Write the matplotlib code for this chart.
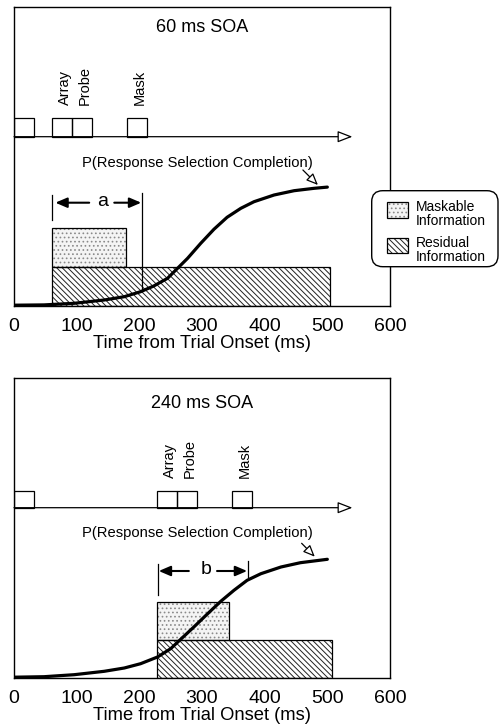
import matplotlib
matplotlib.use("Agg")
import matplotlib.pyplot as plt
from matplotlib.patches import Rectangle, FancyBboxPatch

plt.rcParams['font.family'] = ['Liberation Sans', 'DejaVu Sans']
plt.rcParams['hatch.linewidth'] = 0.7

# ---------------- data ----------------
panel_titles = ["60 ms SOA", "240 ms SOA"]
stim_labels = ["Array", "Probe", "Mask"]
# stimulus onsets (ms): fixation, array, probe, mask
stim_onsets = [[0, 60, 92, 180], [0, 228, 260, 348]]
stim_duration = 32
# information boxes (ms)
maskable_start = [60, 228]
maskable_end = [178, 343]
residual_end = [504, 507]
maskable_level = [77.4, 75.7]
residual_level = [38.4, 37.4]
# measured interval (a / b)
interval_names = ["a", "b"]
interval_start = [60, 229]
interval_end = [204, 374]
# P(response selection completion) curves
curve_t_top = [0, 48, 96, 144, 176, 202, 223, 245, 261, 277, 298, 319, 340,
               362, 383, 415, 447, 479, 500]
curve_y_top = [0.5, 0.8, 2.4, 5.7, 9, 14, 19.7, 27.4, 37.4, 47.4, 62.4, 76.4,
               88.4, 97.4, 104, 110.7, 115, 117.4, 118.6]
curve_t_bot = [0, 48, 96, 144, 176, 202, 229, 250, 266, 287, 309, 330, 351,
               372, 394, 426, 457, 500]
curve_y_bot = [0.5, 1, 3, 6.4, 9.7, 14, 20.7, 29, 38.4, 50.7, 64, 76.4, 87.4,
               97.4, 104, 110.7, 115, 118.4]
curves_t = [curve_t_top, curve_t_bot]
curves_y = [curve_y_top, curve_y_bot]
xticks = [0, 100, 200, 300, 400, 500, 600]

W, H = 500, 727
fig = plt.figure(figsize=(W / 100, H / 100), dpi=100)


def ax_rect(l, t, r, b):
    return [l / W, 1 - b / H, (r - l) / W, (b - t) / H]


panel_px = [(14, 7, 390, 305.7), (14, 378, 390, 677.7)]
title_y = [278, 274.7]
tl_base = [169, 170]
tl_top = [187.4, 187]
lbl_y = [201, 200]
p_y = [143, 144.7]
arrow_y = [103, 106.7]
int_left_y = [(85.7, 110.7), (82.4, 114)]
int_right_y = [(15, 112.7), (100.7, 117)]
int_arrows = [((120, 66), (160, 203)), ((279, 231), (324, 372))]
lbl_x = [141, 306]
ptr = [((461, 135.7), (485, 120.7)), ((459, 134.4), (480, 121))]
HATCH_RES = '\\\\\\\\\\\\'

for i in range(2):
    ax = fig.add_axes(ax_rect(*panel_px[i]))
    ax.set_xlim(0, 600)
    ax.set_ylim(0, panel_px[i][3] - panel_px[i][1])
    for s in ax.spines.values():
        s.set_linewidth(1.0)
    ax.set_yticks([])
    ax.set_xticks(xticks)
    ax.set_xticklabels([str(v) for v in xticks], fontsize=14)
    ax.tick_params(axis='x', length=0, pad=9)
    ax.set_xlabel("Time from Trial Onset (ms)", fontsize=13.2, labelpad=0)

    ax.text(300, title_y[i], panel_titles[i], ha='center', va='center', fontsize=13)

    # timeline
    for j, on in enumerate(stim_onsets[i]):
        ax.add_patch(Rectangle((on, tl_base[i]), stim_duration, tl_top[i] - tl_base[i],
                               fill=False, ec='black', lw=0.9))
        if j > 0:
            ax.text(on + stim_duration / 2 + 5, lbl_y[i], stim_labels[j - 1], rotation=90,
                    ha='center', va='bottom', fontsize=10.5)
    ax.annotate('', xy=(540, tl_base[i]), xytext=(0, tl_base[i]),
                arrowprops=dict(arrowstyle='-|>,head_length=0.9,head_width=0.35',
                                fc='white', ec='black', lw=0.9, shrinkA=0, shrinkB=0))

    ax.text(292, p_y[i], "P(Response Selection Completion)", ha='center', va='center',
            fontsize=10.6)

    # information boxes
    ms, me = maskable_start[i], maskable_end[i]
    ax.add_patch(Rectangle((ms, residual_level[i]), me - ms, maskable_level[i] - residual_level[i],
                           fc='#f4f4f4', ec='#8a8a8a', hatch='....', lw=0, zorder=1))
    ax.add_patch(Rectangle((ms, residual_level[i]), me - ms, maskable_level[i] - residual_level[i],
                           fill=False, ec='black', lw=0.9, zorder=1.2))
    ax.add_patch(Rectangle((ms, 0), residual_end[i] - ms, residual_level[i],
                           fc='white', ec='#222222', hatch=HATCH_RES, lw=0, zorder=1))
    ax.add_patch(Rectangle((ms, 0), residual_end[i] - ms, residual_level[i],
                           fill=False, ec='black', lw=0.9, zorder=1.2))

    # curve
    ax.plot(curves_t[i], curves_y[i], color='black', lw=2.3, solid_joinstyle='round',
            solid_capstyle='round', zorder=3)
    ax.annotate('', xy=ptr[i][1], xytext=ptr[i][0],
                arrowprops=dict(arrowstyle='-|>,head_length=0.7,head_width=0.3',
                                fc='white', ec='black', lw=0.9, shrinkA=0, shrinkB=0))

    # interval
    ax.plot([interval_start[i]] * 2, int_left_y[i], color='black', lw=0.9, zorder=2)
    ax.plot([interval_end[i]] * 2, int_right_y[i], color='black', lw=0.9, zorder=2)
    (lt, lh), (rt, rh) = int_arrows[i]
    for tail, head in [(lt, lh), (rt, rh)]:
        ax.annotate('', xy=(head, arrow_y[i]), xytext=(tail, arrow_y[i]),
                    arrowprops=dict(arrowstyle='-|>,head_length=0.7,head_width=0.3',
                                    fc='black', ec='black', lw=1.5, shrinkA=0, shrinkB=0))
    ax.text(lbl_x[i], arrow_y[i] + 1, interval_names[i], ha='center', va='center', fontsize=14)

# legend
lx0, ly0, lx1, ly1 = 371.7, 190.7, 498, 266.7
lax = fig.add_axes(ax_rect(lx0 - 2, ly0 - 2, lx1 + 1.5, ly1 + 2))
lw_, lh_ = lx1 - lx0 + 3.5, ly1 - ly0 + 4
lax.set_xlim(0, lw_)
lax.set_ylim(lh_, 0)
lax.axis('off')
lax.add_patch(FancyBboxPatch((2, 2), lx1 - lx0, ly1 - ly0,
                             boxstyle='round,pad=0,rounding_size=11',
                             fc='white', ec='black', lw=1.0, clip_on=False))


def lp(px, py):
    return px - lx0 + 2, py - ly0 + 2


x0, y0 = lp(387.3, 218.3)
lax.add_patch(Rectangle((x0, y0), 21, -16.6, fc='#f4f4f4', ec='#8a8a8a', hatch='....', lw=0))
lax.add_patch(Rectangle((x0, y0), 21, -16.6, fill=False, ec='black', lw=0.9))
x0, y0 = lp(387.3, 253.3)
lax.add_patch(Rectangle((x0, y0), 21, -15.5, fc='white', ec='#222222', hatch=HATCH_RES, lw=0))
lax.add_patch(Rectangle((x0, y0), 21, -15.5, fill=False, ec='black', lw=0.9))
tx, ty = lp(416, 214)
lax.text(tx, ty, "Maskable\nInformation", ha='left', va='center', fontsize=10, linespacing=1.05)
tx, ty = lp(416, 250)
lax.text(tx, ty, "Residual\nInformation", ha='left', va='center', fontsize=10, linespacing=1.05)

fig.savefig("out.png", dpi=100)
